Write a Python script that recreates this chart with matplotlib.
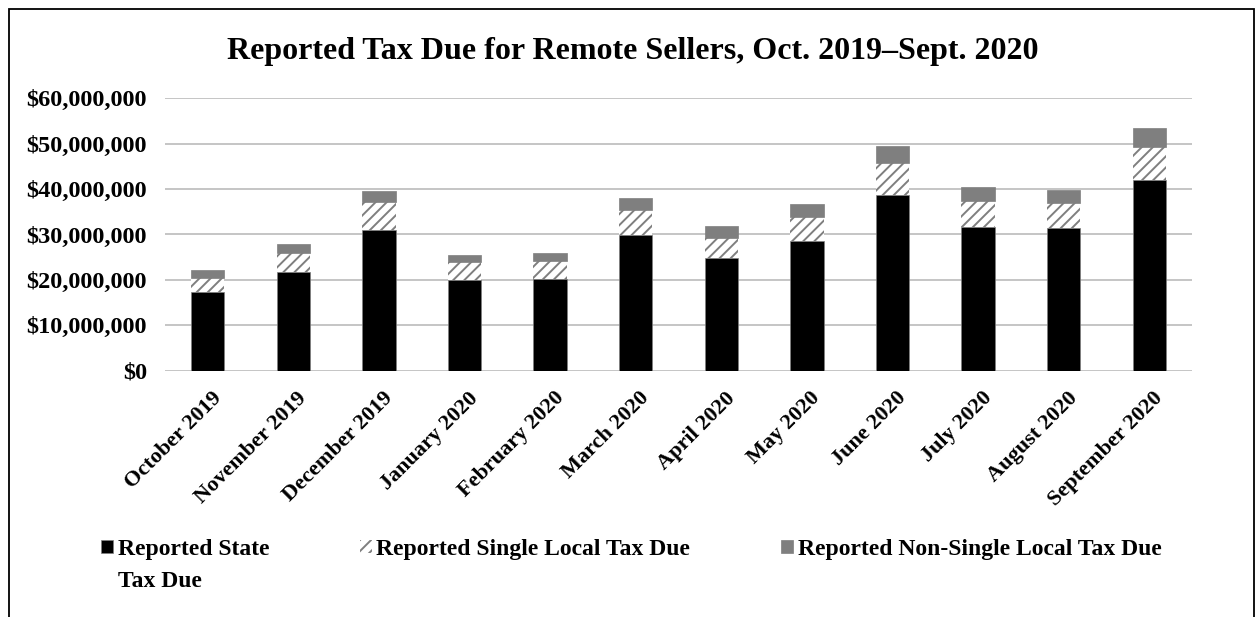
import matplotlib.pyplot as plt
import numpy as np
from matplotlib.patches import Rectangle
from matplotlib.ticker import FuncFormatter
from matplotlib.transforms import ScaledTranslation

plt.rcParams['font.family'] = 'Liberation Serif'
plt.rcParams['font.weight'] = 'bold'
plt.rcParams['hatch.linewidth'] = 1.4

# Datos (dólares)
meses = ['October 2019', 'November 2019', 'December 2019', 'January 2020',
         'February 2020', 'March 2020', 'April 2020', 'May 2020', 'June 2020',
         'July 2020', 'August 2020', 'September 2020']
estatal = [17.3e6, 21.7e6, 30.9e6, 19.9e6, 20.3e6, 29.8e6,
           24.9e6, 28.6e6, 38.6e6, 31.7e6, 31.4e6, 41.9e6]
local_unico = [3.2e6, 4.2e6, 6.2e6, 4.0e6, 3.8e6, 5.6e6,
               4.4e6, 5.3e6, 7.2e6, 5.7e6, 5.5e6, 7.4e6]
local_no_unico = [1.6e6, 1.9e6, 2.5e6, 1.6e6, 1.8e6, 2.6e6,
                  2.5e6, 2.9e6, 3.6e6, 3.0e6, 3.0e6, 4.1e6]
ticks_y = [0, 10e6, 20e6, 30e6, 40e6, 50e6, 60e6]

x = np.arange(len(meses))
base2 = np.array(estatal) + np.array(local_unico)

fig = plt.figure(figsize=(12.56, 6.17), dpi=100)
ax = fig.add_axes([165 / 1256, 1 - 370.7 / 617, 1027 / 1256, 272.4 / 617])

ancho = 0.39
ax.bar(x, estatal, ancho, color='black', edgecolor='#7f7f7f', linewidth=0.5,
       label='Reported State', zorder=3)
ax.bar(x, local_unico, ancho, bottom=estatal, color='white', edgecolor='#7f7f7f',
       hatch='///', linewidth=0, label='Reported Single Local Tax Due', zorder=3)
ax.bar(x, local_no_unico, ancho, bottom=base2, color='#7f7f7f', edgecolor='#7f7f7f',
       linewidth=0.5, label='Reported Non-Single Local Tax Due', zorder=3)

ax.set_xlim(-0.5, len(meses) - 0.5)
ax.set_ylim(0, 60e6)
ax.set_yticks(ticks_y)
ax.yaxis.set_major_formatter(FuncFormatter(lambda v, p: '${:,.0f}'.format(v)))
ax.yaxis.grid(True, color='#c0c0c0', linewidth=1.3, zorder=0)
ax.set_axisbelow(True)
for s in ax.spines.values():
    s.set_visible(False)
ax.tick_params(axis='y', length=0, pad=13, labelsize=17.5)
ax.tick_params(axis='x', length=0, pad=12.5, labelsize=16)

ax.set_xticks(x)
ax.set_xticklabels(meses, rotation=45, ha='right', va='top', rotation_mode='anchor')
desplazar = ScaledTranslation(3.5 / 100, 0, fig.dpi_scale_trans)
for lab in ax.get_xticklabels():
    lab.set_transform(lab.get_transform() + desplazar)

fig.text(632.5 / 1256, 1 - 59 / 617,
         'Reported Tax Due for Remote Sellers, Oct. 2019\u2013Sept. 2020',
         ha='center', va='baseline', fontsize=23, fontweight='bold')

leg = fig.legend(loc='upper left', bbox_to_anchor=(101 / 1256, 1 - 539 / 617), ncol=3,
                 frameon=False, fontsize=17, handlelength=0.5, handleheight=0.5,
                 handletextpad=0.2, columnspacing=3.85, borderpad=0, borderaxespad=0)

# segunda línea de la primera entrada de la leyenda
fig.canvas.draw()
caja = leg.get_texts()[0].get_window_extent()
fig.text(caja.x0 / 1256, 1 - 587 / 617, 'Tax Due', ha='left', va='baseline',
         fontsize=17, fontweight='bold')

# marco exterior
fig.patches.append(Rectangle((8.5 / 1256, -0.1), 1245.5 / 1256, 1.1 - 8.5 / 617,
                             transform=fig.transFigure, fill=False,
                             edgecolor='black', linewidth=1.3))

fig.savefig('out.png', dpi=100)
